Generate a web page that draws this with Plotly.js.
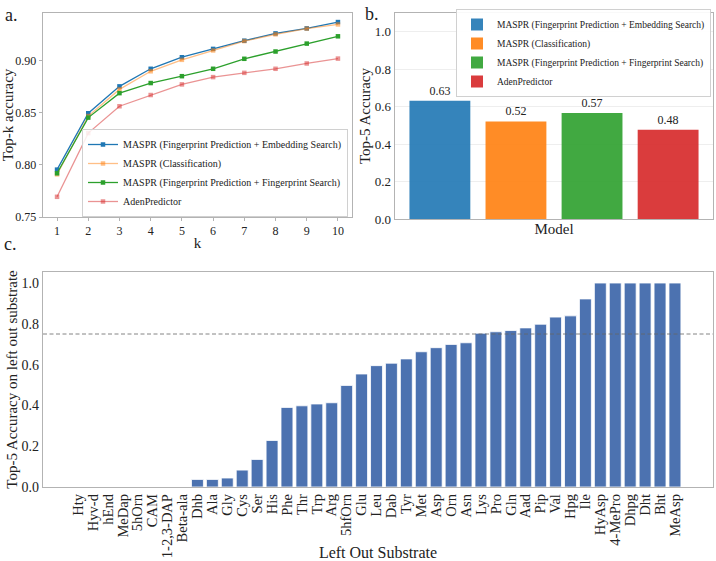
<!DOCTYPE html>
<html>
<head>
<meta charset="utf-8">
<script src="https://cdn.plot.ly/plotly-3.0.1.min.js"></script>
<style>html,body{margin:0;padding:0;background:#fff;}#chart{width:716px;height:561px;}</style>
</head>
<body>
<div id="chart"></div>
<script>
// ---- Panel a: Top-k accuracy ----
const kValues = [1, 2, 3, 4, 5, 6, 7, 8, 9, 10];
const embedSearch = [0.7955, 0.8497, 0.8755, 0.8924, 0.9035, 0.9115, 0.9194, 0.9264, 0.9312, 0.9373];
const classification = [0.7910, 0.8470, 0.8726, 0.8900, 0.9010, 0.9100, 0.9190, 0.9255, 0.9310, 0.9350];
const fingerprintSearch = [0.7920, 0.8455, 0.8690, 0.8787, 0.8853, 0.8924, 0.9020, 0.9090, 0.9166, 0.9236];
const adenPredictor = [0.7694, 0.8306, 0.8564, 0.8672, 0.8774, 0.8844, 0.8885, 0.8924, 0.8975, 0.9022];
const seriesNames = [
  "MASPR (Fingerprint Prediction + Embedding Search)",
  "MASPR (Classification)",
  "MASPR (Fingerprint Prediction + Fingerprint Search)",
  "AdenPredictor"
];

// ---- Panel b: Top-5 accuracy per model ----
const top5Values = [0.632, 0.521, 0.566, 0.476];

// ---- Panel c: leave-one-substrate-out ----
const substrates = ["Hty","Hyv-d","hEnd","MeDap","5hOrn","CAM","1-2,3-DAP","Beta-ala","Dhb","Ala","Gly","Cys","Ser","His","Phe","Thr","Trp","Arg","5hfOrn","Glu","Leu","Dab","Tyr","Met","Asp","Orn","Asn","Lys","Pro","Gln","Aad","Pip","Val","Hpg","Ile","HyAsp","4-MePro","Dhpg","Dht","Bht","MeAsp"];
const substrateAcc = [0,0,0,0,0,0,0,0,0.037,0.037,0.044,0.083,0.135,0.228,0.390,0.398,0.407,0.413,0.498,0.554,0.595,0.607,0.628,0.663,0.683,0.699,0.707,0.754,0.761,0.767,0.780,0.798,0.833,0.839,0.922,1,1,1,1,1,1];
const threshold = 0.75;

const FONT = "Liberation Serif, Times New Roman, serif";
const FRAME = "#b3b3b3";
const TXT = "#222222";
const f = (size) => ({family: FONT, size: size, color: TXT});

const lineColors = ["#1f77b4", "rgba(255,127,14,0.5)", "#2ca02c", "rgba(214,39,40,0.5)"];
const barColors = ["rgba(31,119,180,0.9)", "rgba(255,127,14,0.9)", "rgba(44,160,44,0.9)", "rgba(214,39,40,0.9)"];
const lineSeries = [embedSearch, classification, fingerprintSearch, adenPredictor];

const traces = [];
lineSeries.forEach((ys, i) => {
  traces.push({
    type: "scatter", mode: "lines+markers", x: kValues, y: ys, name: seriesNames[i],
    xaxis: "x", yaxis: "y", legend: "legend",
    line: {color: lineColors[i], width: 1.3},
    marker: {symbol: "square", size: 4.5, color: lineColors[i]},
    hoverinfo: "skip"
  });
});
top5Values.forEach((v, i) => {
  traces.push({
    type: "bar", x: [seriesNames[i]], y: [v], name: seriesNames[i],
    xaxis: "x2", yaxis: "y2", legend: "legend2", width: 0.8,
    marker: {color: barColors[i], line: {width: 0}},
    texttemplate: "%{y:.2f}", textposition: "outside", cliponaxis: false,
    textfont: f(12),
    hoverinfo: "skip"
  });
});
traces.push({
  type: "bar", x: substrates, y: substrateAcc, name: "substrate",
  xaxis: "x3", yaxis: "y3", showlegend: false, width: 0.8,
  marker: {color: "#4c72b0", line: {color: "#ffffff", width: 0.8}},
  hoverinfo: "skip"
});

const W = 716, H = 561;
const fx = p => p / W, fy = p => 1 - p / H;

const axBase = {
  showline: true, mirror: true, linecolor: FRAME, linewidth: 1.3,
  zeroline: false, showgrid: false, tickfont: f(12)
};

const layout = {
  width: W, height: H,
  margin: {l: 0, r: 0, t: 0, b: 0},
  paper_bgcolor: "#fff", plot_bgcolor: "#fff",
  barmode: "overlay",
  font: f(12),
  xaxis: Object.assign({}, axBase, {
    domain: [fx(43), fx(352)], anchor: "y", range: [0.55, 10.45],
    tickvals: kValues, ticks: "outside", ticklen: 3, tickcolor: FRAME, ticklabelstandoff: -1,
    title: {text: "k", standoff: 0, font: f(15)}
  }),
  yaxis: Object.assign({}, axBase, {
    domain: [fy(217), fy(13)], anchor: "x", range: [0.75, 0.946],
    dtick: 0.05, tickformat: ".2f", ticks: "outside", ticklen: 3, tickcolor: FRAME,
    title: {text: "Top-k accuracy", standoff: 2, font: f(15)}
  }),
  xaxis2: Object.assign({}, axBase, {
    domain: [fx(395), fx(713)], anchor: "y2", type: "category", range: [-0.59, 3.59],
    showticklabels: false, ticks: "",
    title: {text: "Model", standoff: 4, font: f(15)}
  }),
  yaxis2: Object.assign({}, axBase, {
    domain: [fy(219), fy(13)], anchor: "x2", range: [0, 1.1],
    dtick: 0.2, tickformat: ".1f", ticks: "", showgrid: true, gridcolor: "#eeeeee",
    tickfont: f(13),
    title: {text: "Top-5 Accuracy", standoff: 0, font: f(15)}
  }),
  xaxis3: Object.assign({}, axBase, {
    domain: [fx(43), fx(713)], anchor: "y3", type: "category", range: [-2.35, 42.55],
    tickmode: "linear", dtick: 1, tickangle: -90, ticks: "",
    tickfont: f(14.5),
    title: {text: "Left Out Substrate", standoff: 4, font: f(16)}
  }),
  yaxis3: Object.assign({}, axBase, {
    domain: [fy(487), fy(272)], anchor: "x3", range: [0, 1.054],
    dtick: 0.2, tickformat: ".1f", ticks: "",
    tickfont: f(14),
    title: {text: "Top-5 Accuracy on left out substrate", standoff: 0, font: f(15)}
  }),
  legend: {
    x: fx(348), y: fy(129), xanchor: "right", yanchor: "top",
    bgcolor: "rgba(255,255,255,0.85)", bordercolor: "#d0d0d0", borderwidth: 1,
    font: f(10), itemwidth: 30
  },
  legend2: {
    x: fx(711), y: fy(9), xanchor: "right", yanchor: "top",
    bgcolor: "rgba(255,255,255,0.92)", bordercolor: "#d0d0d0", borderwidth: 1,
    font: f(9.5), itemwidth: 30
  },
  shapes: [{
    type: "line", xref: "x3 domain", x0: 0, x1: 1, yref: "y3", y0: threshold, y1: threshold,
    line: {color: "#666", width: 0.8, dash: "4px,2.5px"}
  }],
  annotations: [
    {text: "a.", xref: "paper", yref: "paper", x: fx(3), y: fy(3), xanchor: "left", yanchor: "top", showarrow: false, font: f(18)},
    {text: "b.", xref: "paper", yref: "paper", x: fx(363), y: fy(2), xanchor: "left", yanchor: "top", showarrow: false, font: f(18)},
    {text: "c.", xref: "paper", yref: "paper", x: fx(2), y: fy(232), xanchor: "left", yanchor: "top", showarrow: false, font: f(18)}
  ]
};

Plotly.newPlot("chart", traces, layout, {staticPlot: true, displayModeBar: false});
</script>
</body>
</html>
